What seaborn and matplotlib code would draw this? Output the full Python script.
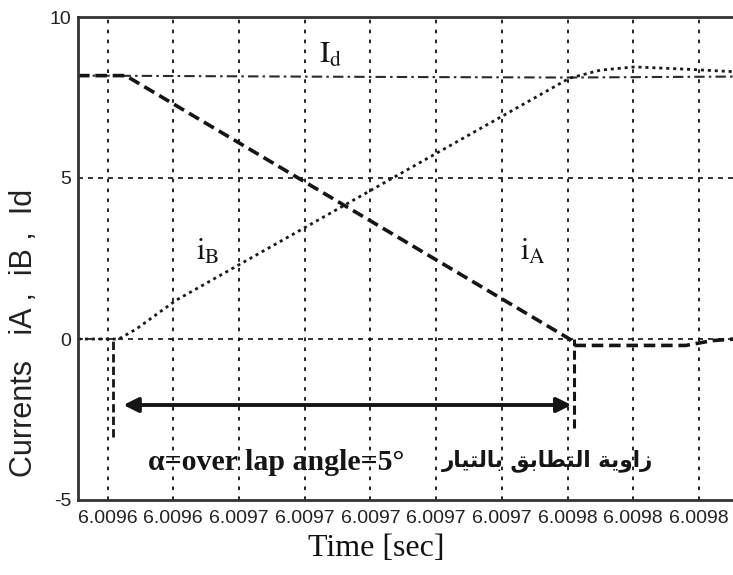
import matplotlib
matplotlib.use("Agg")
import matplotlib.pyplot as plt
import numpy as np
import pandas as pd
import seaborn as sns

# Time axis (seconds) and tick labels
tick_times = [6.00961, 6.00963, 6.00965, 6.00967, 6.00969,
              6.00971, 6.00973, 6.00975, 6.00977, 6.00979]
tick_labels = ["6.0096", "6.0096", "6.0097", "6.0097", "6.0097",
               "6.0097", "6.0097", "6.0098", "6.0098", "6.0098"]
x_limits = [6.009601, 6.0098008]

# DC link current Id
id_time = [6.009601, 6.00969, 6.00975, 6.0098008]
id_vals = [8.18, 8.14, 8.12, 8.15]

# Outgoing phase current iA
ia_time = [6.009601, 6.0096155, 6.0097506, 6.009752, 6.009786, 6.009794, 6.0098008]
ia_vals = [8.18, 8.18, 0.0, -0.2, -0.2, -0.05, 0.0]

# Incoming phase current iB
ib_time = [6.009601, 6.0096134, 6.0096186, 6.0096308, 6.0097506,
           6.00976, 6.0097704, 6.009786, 6.0098008]
ib_vals = [0.0, 0.0, 0.3, 1.2, 8.1, 8.35, 8.45, 8.38, 8.3]

# Commutation interval markers
overlap_start = 6.0096118
overlap_end = 6.009752
arrow_start = 6.0096148
arrow_end = 6.0097512

sns.set_style("white")
plt.rcParams["font.family"] = ["Liberation Sans", "DejaVu Sans"]
plt.rcParams["mathtext.fontset"] = "stix"

fig = plt.figure(figsize=(7.33, 5.75), dpi=100)
ax = fig.add_axes([78 / 733, 1 - 500 / 575, 1 - 78 / 733 + 0.002, 483 / 575])

ink = "#151515"
sns.lineplot(x=id_time, y=id_vals, ax=ax, color="#2a2a2a", linewidth=1.5,
             linestyle=(0, (5, 2, 1.2, 2)))
sns.lineplot(x=ib_time, y=ib_vals, ax=ax, color="#1a1a1a", linewidth=2.0,
             linestyle=(0, (1.1, 1.4)))
sns.lineplot(x=ia_time, y=ia_vals, ax=ax, color=ink, linewidth=2.6,
             linestyle=(0, (3.2, 1.6)))

# Vertical markers at start and end of overlap
ax.vlines([overlap_start], -3.05, 0, color=ink, linewidth=2.0, linestyles=(0, (3, 1.5)))
ax.vlines([overlap_end], -2.75, 0, color=ink, linewidth=2.2, linestyles=(0, (3, 1.5)))

ax.annotate("", xy=(arrow_start, -2.05), xytext=(arrow_end, -2.05),
            arrowprops=dict(arrowstyle="<|-|>", color=ink, lw=2.8,
                            mutation_scale=22, shrinkA=0, shrinkB=0))

ax.set_xlim(*x_limits)
ax.set_ylim(-5, 10)
ax.set_xticks(tick_times)
ax.set_xticklabels(tick_labels)
ax.set_yticks([-5, 0, 5, 10])
ax.set_yticklabels(["-5", "0", "5", "10"])

# Grid
for t in tick_times:
    ax.axvline(t, color="#111111", linewidth=1.3, linestyle=(0, (2, 3.5)), zorder=0)
for v in [0, 5]:
    ax.axhline(v, color="#111111", linewidth=1.2, linestyle=(0, (3, 3)), zorder=0)

for side in ["left", "top", "bottom"]:
    ax.spines[side].set_color("#333333")
    ax.spines[side].set_linewidth(2.0)
ax.spines["right"].set_visible(False)

ax.tick_params(axis="both", direction="in", length=8, width=1.3, color="#333333",
               labelsize=14, labelcolor="#222222", pad=5)
ax.tick_params(axis="x", pad=7)

# Curve labels
ax.text(6.009678, 8.82, r"$\mathrm{I_d}$", fontsize=22, ha="center", va="center", color=ink)
ax.text(6.0096404, 2.7, r"$\mathrm{i_B}$", fontsize=22, ha="center", va="center", color=ink)
ax.text(6.0097396, 2.7, r"$\mathrm{i_A}$", fontsize=22, ha="center", va="center", color=ink)

ax.text(6.0096612, -3.85, "\u03b1=over lap angle=5\u00b0", fontsize=21.5, fontweight="bold",
        family=["Liberation Serif", "DejaVu Serif"], ha="center", va="center", color=ink)
arabic = ("\uFEAD\uFE8E\uFEF4\uFE98\uFEDF\uFE8E\uFE91 "
          "\uFED6\uFE91\uFE8E\uFEC4\uFE98\uFEDF\uFE8D "
          "\uFE94\uFEF3\uFEED\uFE8D\uFEAF")
ax.text(6.009744, -3.78, arabic, fontsize=15.5, fontweight="bold", family=["DejaVu Sans"],
        ha="center", va="center", color=ink)

fig.text(376 / 733, 1 - 549 / 575, "Time [sec]", fontsize=23,
         family=["Liberation Serif", "DejaVu Serif"], ha="center", va="center", color="#111111")
fig.text(24 / 733, 1 - 333 / 575, "Currents   iA ,  iB ,  Id", fontsize=22, rotation=90,
         ha="center", va="center", color="#222222")

fig.savefig("out.png", dpi=100)
